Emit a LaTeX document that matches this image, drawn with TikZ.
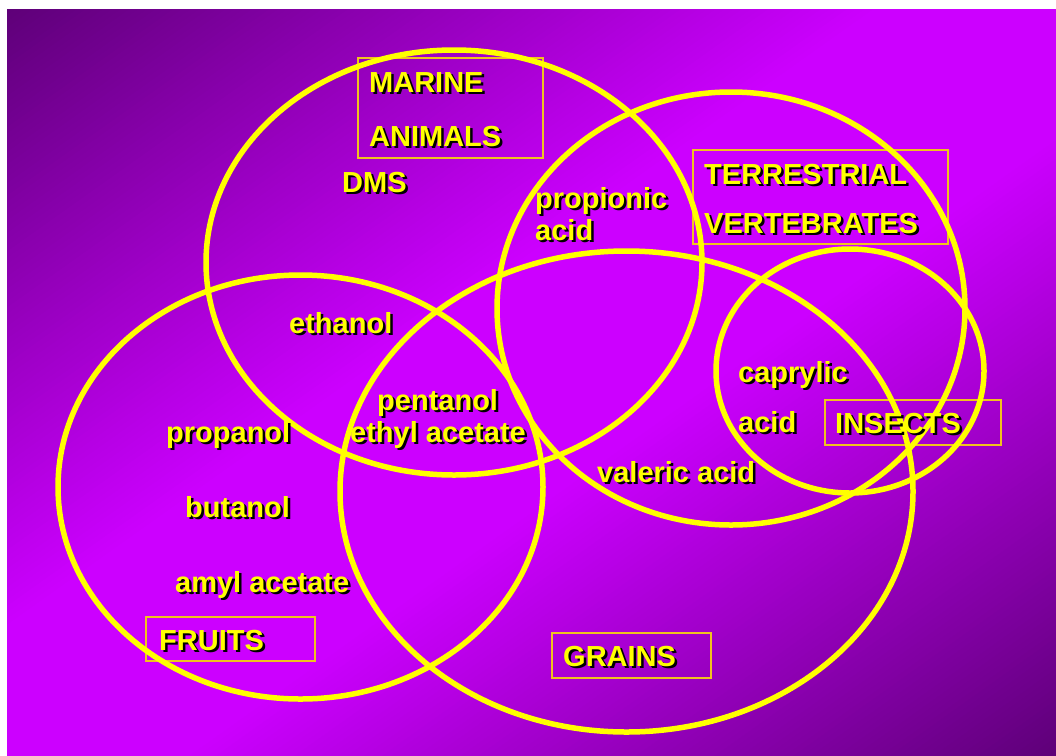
\documentclass[tikz,border=0pt]{standalone}
\usepackage{fontspec}
\setmainfont{Liberation Sans}
\usetikzlibrary{calc}

\definecolor{bgdark}{RGB}{94,0,120}
\definecolor{bgbright}{RGB}{204,0,255}
\definecolor{vennyellow}{RGB}{255,255,0}
\definecolor{boxgold}{RGB}{240,195,30}

% yellow label with a black drop shadow
\newcommand{\venntext}[3]{%
  \node[vtext, text=black, xshift=2.5pt, yshift=-2.5pt] at (#2) {#3};
  \node[vtext] (#1) at (#2) {#3};
}

\begin{document}
\begin{tikzpicture}[x=1pt, y=-1pt,
  venn/.style={draw=vennyellow, line width=5.5pt},
  labelbox/.style={draw=boxgold, line width=1.2pt},
  vtext/.style={font=\fontsize{29}{33}\selectfont\bfseries, text=vennyellow,
    inner sep=0pt, anchor=base west}]

\useasboundingbox (0,0) rectangle (1056,755);
\fill[white] (0,0) rectangle (1056,755);

% Background: dark corners, wide bright diagonal band (strips)
\begin{scope}
\clip (7,9) rectangle (1056,755);
\begin{scope}[shift={(531.5,382)}, rotate=-54.6]
\foreach \i in {0,...,239} {
  \pgfmathsetmacro{\dk}{max(0,(abs(\i+0.5-120)/120-0.17)/0.83)*100}
  \fill[bgdark!\dk!bgbright] ({-608+\i*5.07},-700) rectangle ({-608+(\i+1)*5.07+0.8},700);
}
\end{scope}
\end{scope}

% Label boxes
\draw[labelbox] (358,58) rectangle (543,158);   % marine animals
\draw[labelbox] (693,150) rectangle (948,244);  % terrestrial vertebrates
\draw[labelbox] (825,400) rectangle (1001,445); % insects
\draw[labelbox] (146,617) rectangle (315,661);  % fruits
\draw[labelbox] (552,633) rectangle (711,678);  % grains

% Sets
\draw[venn] (454,262.5) ellipse [x radius=248, y radius=212.5];   % marine animals
\draw[venn] (731,308.5) ellipse [x radius=234, y radius=216.5];   % terrestrial vertebrates
\draw[venn] (300.5,487) ellipse [x radius=242.5, y radius=212];   % fruits
\draw[venn] (626.5,491.5) ellipse [x radius=286.5, y radius=240.5]; % grains
\draw[venn] (850,371) ellipse [x radius=134, y radius=122];       % insects

% Set names
\venntext{marine1}{369,92}{MARINE}
\venntext{marine2}{369,146}{ANIMALS}
\venntext{terr1}{704,184}{TERRESTRIAL}
\venntext{terr2}{704,233}{VERTEBRATES}
\venntext{insects}{835,433}{INSECTS}
\venntext{fruits}{159,650}{FRUITS}
\venntext{grains}{563,666}{GRAINS}

% Compounds
\venntext{dms}{342,192}{DMS}
\venntext{propionic}{535,208}{propionic}
\venntext{propacid}{535,240}{acid}
\venntext{ethanol}{289,333}{ethanol}
\venntext{pentanol}{377,410}{pentanol}
\venntext{ethylac}{350,442}{ethyl acetate}
\venntext{propanol}{166,442}{propanol}
\venntext{butanol}{185,517}{butanol}
\venntext{amylac}{175,592}{amyl acetate}
\venntext{caprylic}{738,382}{caprylic}
\venntext{capacid}{738,432}{acid}
\venntext{valeric}{597,482}{valeric acid}

\end{tikzpicture}
\end{document}
